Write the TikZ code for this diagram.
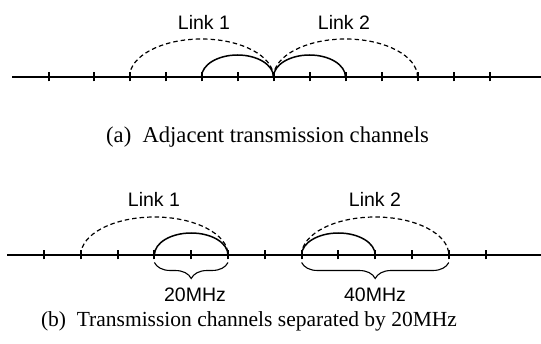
\documentclass[tikz,border=0pt]{standalone}
\usepackage{fontspec}
\setmainfont{Liberation Serif}
\newfontfamily\lsans{Liberation Sans}
\usetikzlibrary{decorations.pathreplacing}
\tikzset{
  axis/.style={line width=2.3pt},
  tickmark/.style={line width=2pt},
  wide/.style={line width=1.2pt, dash pattern=on 4.5pt off 3pt},
  narrow/.style={line width=1.5pt},
  lbl/.style={inner sep=0pt, font=\lsans\fontsize{19.5}{22}\selectfont},
  captext/.style={inner sep=0pt, anchor=base},
  bracestyle/.style={line width=1.1pt, decorate, decoration={brace, mirror, amplitude=16pt}},
}
\begin{document}
\begin{tikzpicture}[x=1pt,y=1pt]
\useasboundingbox (0,0) rectangle (541,343);
% ---- (a) ----
\draw[axis] (12,266) -- (541,266);
\foreach \x in {48.5,93.5,129.5,165.5,201.5,237.5,273.5,309.5,345.5,381.5,417.5,453.5,489.5}
  \draw[tickmark] (\x,261.5) -- (\x,270.5);
\draw[wide] (129.5,266) arc[start angle=180,end angle=0,x radius=72,y radius=38];
\draw[wide] (273.5,266) arc[start angle=180,end angle=0,x radius=72,y radius=38];
\draw[narrow] (201.5,266) arc[start angle=180,end angle=0,x radius=36,y radius=22];
\draw[narrow] (273.5,266) arc[start angle=180,end angle=0,x radius=36,y radius=22];
\node[lbl] (la1) at (204,320.5) {Link 1};
\node[lbl] (la2) at (344,320.5) {Link 2};
\node[captext, font=\fontsize{22.6}{26}\selectfont] (capa) at (267.5,200) {(a)\ \ Adjacent transmission channels};
% ---- (b) ----
\draw[axis] (7,88) -- (541,88);
\foreach \x in {44,80.8,117.6,154.4,191.2,228,264.8,301.6,338.4,375.2,412,448.8,485.6}
  \draw[tickmark] (\x,83.5) -- (\x,92.5);
\draw[wide] (80.8,88) arc[start angle=180,end angle=0,x radius=73.6,y radius=38];
\draw[wide] (301.6,88) arc[start angle=180,end angle=0,x radius=73.6,y radius=38];
\draw[narrow] (154.4,88) arc[start angle=180,end angle=0,x radius=36.8,y radius=22];
\draw[narrow] (301.6,88) arc[start angle=180,end angle=0,x radius=36.8,y radius=22];
\node[lbl] (lb1) at (154,144) {Link 1};
\node[lbl] (lb2) at (375,144) {Link 2};
\coordinate (b1s) at (154.4,80.5);
\coordinate (b1e) at (228,80.5);
\coordinate (b2s) at (301.6,80.5);
\coordinate (b2e) at (448.8,80.5);
\draw[bracestyle] (b1s) -- (b1e);
\draw[bracestyle] (b2s) -- (b2e);
\node[lbl] (f20) at (195,48) {20MHz};
\node[lbl] (f40) at (375,48) {40MHz};
\node[captext, font=\fontsize{21.5}{26}\selectfont] (capb) at (249,17) {(b)\ \ Transmission channels separated by 20MHz};
\end{tikzpicture}
\end{document}
